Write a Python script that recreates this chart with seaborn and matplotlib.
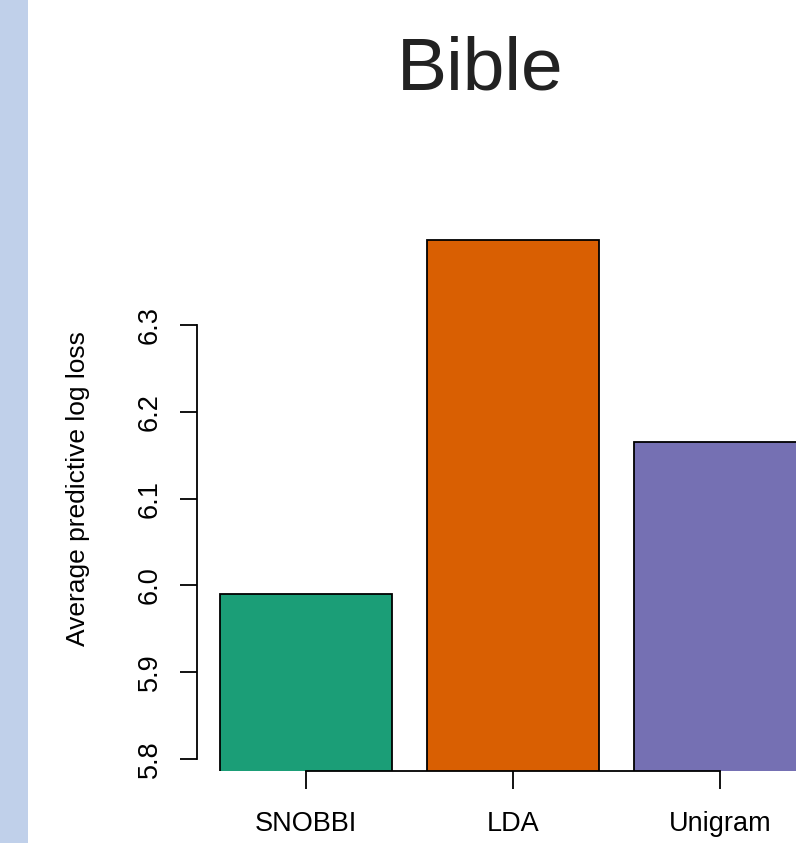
import matplotlib
matplotlib.use("Agg")
import matplotlib.pyplot as plt
from matplotlib.patches import Rectangle
import seaborn as sns
import pandas as pd

# Average predictive log loss per model on the Bible corpus
models = ["SNOBBI", "LDA", "Unigram"]
log_loss = [5.990, 6.398, 6.165]
bar_colors = ["#1b9e77", "#d95f02", "#7570b3"]
y_ticks = [5.8, 5.9, 6.0, 6.1, 6.2, 6.3]
y_tick_labels = ["5.8", "5.9", "6.0", "6.1", "6.2", "6.3"]

sns.set_style("ticks")
plt.rcParams["font.family"] = ["Liberation Sans", "DejaVu Sans"]

W, H = 796, 843
fig = plt.figure(figsize=(W / 100, H / 100), dpi=100)
fig.patch.set_facecolor("white")

# light blue strip along the left edge
fig.patches.append(Rectangle((0, 0), 28 / W, 1, transform=fig.transFigure,
                             facecolor="#c0d0ea", edgecolor="none", zorder=0))

ax = fig.add_axes([197 / W, (H - 771) / H, (W - 197) / W, 571 / H])
ax.set_facecolor("none")

df = pd.DataFrame({"model": models, "loss": log_loss})
sns.barplot(data=df, x="model", y="loss", hue="model", palette=bar_colors,
            saturation=1, dodge=False, width=0.83, edgecolor="black",
            linewidth=1.3, legend=False, ax=ax)

ax.set_xlim(-109 / 207, 2 + 76 / 207)
ax.set_ylim(5.8 - 12 / 868, 5.8 + 559 / 868)

for side in ["top", "right"]:
    ax.spines[side].set_visible(False)
ax.spines["left"].set_bounds(5.8, 6.3)
ax.spines["bottom"].set_bounds(0, 2)
for side in ["left", "bottom"]:
    ax.spines[side].set_linewidth(1.3)
    ax.spines[side].set_color("black")

ax.set_yticks(y_ticks)
ax.set_yticklabels(y_tick_labels, rotation=90, va="center")
ax.tick_params(axis="y", length=12.5, width=1.3, pad=12, labelsize=19.5,
               colors="black")
ax.tick_params(axis="x", length=13, width=1.3, pad=16, labelsize=19.5,
               colors="black")
ax.set_xlabel("")
ax.set_ylabel("")

fig.text(78 / W, 1 - 489 / H, "Average predictive log loss", rotation=90,
         ha="center", va="center", fontsize=19, color="black")
fig.text(480 / W, 1 - 70 / H, "Bible", ha="center", va="center",
         fontsize=54, color="#222222")

fig.savefig("out.png", dpi=100)
